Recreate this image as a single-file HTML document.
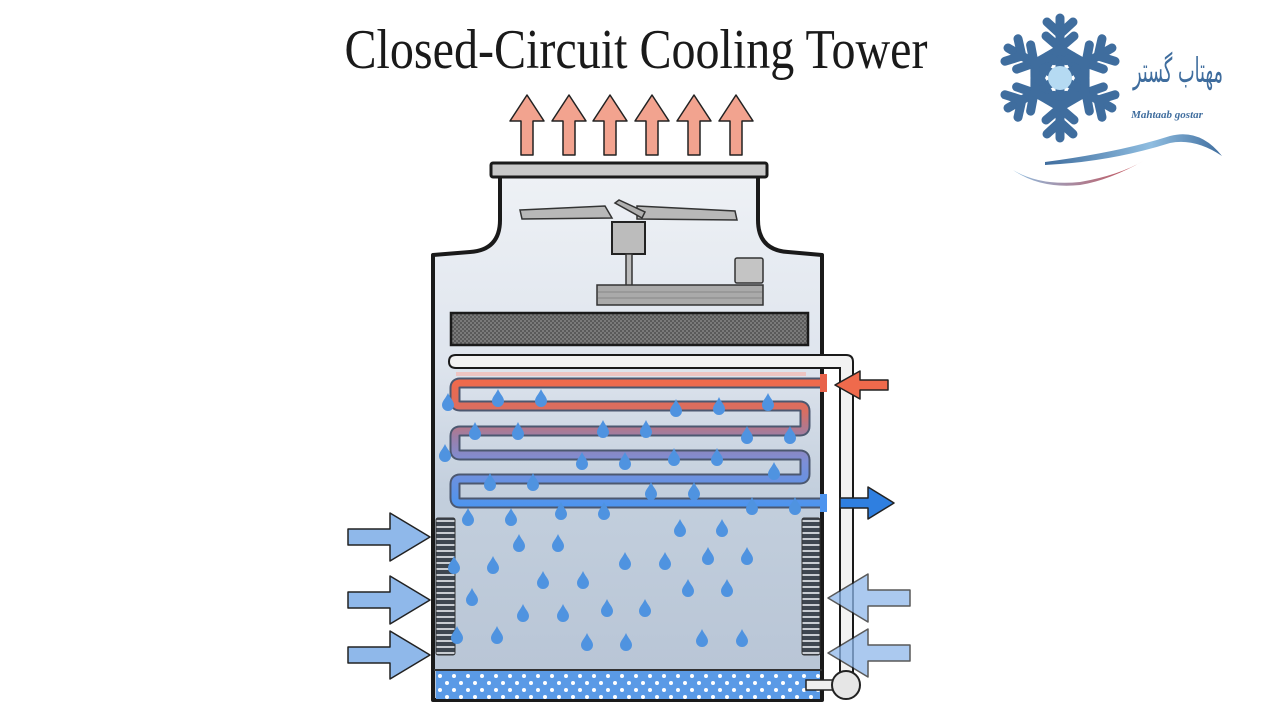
<!DOCTYPE html>
<html><head><meta charset="utf-8"><style>
html,body{margin:0;padding:0;background:#fff;width:1280px;height:720px;overflow:hidden}
</style></head><body>
<svg width="1280" height="720" viewBox="0 0 1280 720" xmlns="http://www.w3.org/2000/svg">
<defs>
<linearGradient id="bodyg" x1="0" y1="0" x2="0" y2="1">
<stop offset="0" stop-color="#eef1f5"/><stop offset="0.35" stop-color="#dfe5ee"/><stop offset="0.6" stop-color="#c3cfdd"/><stop offset="1" stop-color="#b7c4d5"/>
</linearGradient>
<linearGradient id="coilg" gradientUnits="userSpaceOnUse" x1="0" y1="380" x2="0" y2="506">
<stop offset="0" stop-color="#f0694a"/><stop offset="0.25" stop-color="#d86e62"/><stop offset="0.45" stop-color="#9c7ea6"/><stop offset="0.65" stop-color="#7d8fd8"/><stop offset="1" stop-color="#4d94ee"/>
</linearGradient>
<linearGradient id="swb" x1="0" y1="0" x2="1" y2="0">
<stop offset="0" stop-color="#3f6d9e"/><stop offset="0.6" stop-color="#8fbde0"/><stop offset="1" stop-color="#3f6d9e"/>
</linearGradient>
<linearGradient id="swr" x1="0" y1="0" x2="1" y2="0">
<stop offset="0" stop-color="#8fbde0"/><stop offset="1" stop-color="#c84a50"/>
</linearGradient>
<pattern id="hatch" width="4" height="4" patternUnits="userSpaceOnUse">
<rect width="4" height="4" fill="#5a5a5a"/><rect width="2" height="2" fill="#7a7a7a"/><rect x="2" y="2" width="2" height="2" fill="#7a7a7a"/>
</pattern>
<pattern id="dots" width="14" height="14" patternUnits="userSpaceOnUse" x="436" y="672">
<rect width="14" height="14" fill="#5a9ae6"/><circle cx="4" cy="4" r="2" fill="#fff"/><circle cx="11" cy="11" r="2" fill="#fff"/>
</pattern>
<pattern id="louv" width="20" height="6" patternUnits="userSpaceOnUse" y="518">
<rect width="20" height="6" fill="#3e4650"/><rect y="2" width="20" height="2" fill="#c8ccd2"/>
</pattern>
<path id="drop" d="M0,-9 C2,-4 6,-1 6,3 A6,6 0 0 1 -6,3 C-6,-1 -2,-4 0,-9Z" fill="#4f93e0"/>
<path id="uparr" d="M0,0 L17,26 L6,26 L6,60 L-6,60 L-6,26 L-17,26Z" fill="#f2a38f" stroke="#222" stroke-width="1.5" stroke-linejoin="round"/>
<path id="rarr" d="M0,-8 L42,-8 L42,-24 L82,0 L42,24 L42,8 L0,8Z" fill="#8fb8ea" stroke="#222" stroke-width="1.5" stroke-linejoin="round"/>
</defs>

<text x="636" y="68" font-family="'Liberation Serif',serif" font-size="56" fill="#1a1a1a" text-anchor="middle" textLength="583" lengthAdjust="spacingAndGlyphs">Closed-Circuit Cooling Tower</text>

<use href="#uparr" x="527" y="95"/><use href="#uparr" x="569" y="95"/><use href="#uparr" x="610" y="95"/>
<use href="#uparr" x="652" y="95"/><use href="#uparr" x="694" y="95"/><use href="#uparr" x="736" y="95"/>

<path d="M500,175 L500,220 Q500,250 470,252 L433,255 L433,700 L822,700 L822,255 L788,252 Q758,250 758,220 L758,175Z" fill="url(#bodyg)" stroke="#1a1a1a" stroke-width="4" stroke-linejoin="round"/>
<rect x="491" y="163" width="276" height="14" rx="2" fill="#c8c8c8" stroke="#1a1a1a" stroke-width="3"/>

<path d="M520,210 L605,206 L612,218 L522,219Z" fill="#b8b8b8" stroke="#333" stroke-width="1.5"/>
<path d="M637,206 L735,211 L737,220 L637,219Z" fill="#b8b8b8" stroke="#333" stroke-width="1.5"/>
<path d="M615,203 L619,200 L645,212 L642,218Z" fill="#b0b0b0" stroke="#333" stroke-width="1.5"/>
<rect x="612" y="222" width="33" height="32" fill="#bcbcbc" stroke="#222" stroke-width="2"/>
<rect x="626" y="254" width="6" height="32" fill="#bcbcbc" stroke="#333" stroke-width="1.5"/>
<rect x="735" y="258" width="28" height="25" rx="2" fill="#c4c4c4" stroke="#333" stroke-width="1.5"/>
<rect x="597" y="285" width="166" height="20" fill="#aaaaaa" stroke="#333" stroke-width="1.5"/>
<line x1="598" y1="292" x2="762" y2="292" stroke="#888" stroke-width="1"/>
<line x1="598" y1="298" x2="762" y2="298" stroke="#888" stroke-width="1"/>

<rect x="451" y="313" width="357" height="32" fill="url(#hatch)" stroke="#1a1a1a" stroke-width="2.5"/>

<path d="M456,355 L846,355 Q853,355 853,362 L853,680 L840,680 L840,368 L456,368 Q449,368 449,361.5 Q449,355 456,355Z" fill="#f2f2f2" stroke="#1a1a1a" stroke-width="2"/>
<rect x="456" y="372" width="350" height="4" fill="#f4b8b0" opacity="0.7"/>

<path d="M822,383 L460,383 Q455,383 455,388 L455,401 Q455,406 460,406 L800,406 Q805,406 805,411 L805,426 Q805,431 800,431 L460,431 Q455,431 455,436 L455,450 Q455,455 460,455 L800,455 Q805,455 805,460 L805,474 Q805,479 800,479 L460,479 Q455,479 455,484 L455,498 Q455,503 460,503 L822,503" fill="none" stroke="#4c5870" stroke-width="11" stroke-linejoin="round"/>
<path d="M822,383 L460,383 Q455,383 455,388 L455,401 Q455,406 460,406 L800,406 Q805,406 805,411 L805,426 Q805,431 800,431 L460,431 Q455,431 455,436 L455,450 Q455,455 460,455 L800,455 Q805,455 805,460 L805,474 Q805,479 800,479 L460,479 Q455,479 455,484 L455,498 Q455,503 460,503 L822,503" fill="none" stroke="url(#coilg)" stroke-width="7" stroke-linejoin="round"/>
<rect x="820" y="374" width="7" height="18" fill="#e8624a"/>
<rect x="820" y="494" width="7" height="18" fill="#4d94ee"/>

<path d="M835,385 L860,371 L860,380 L888,380 L888,390 L860,390 L860,399Z" fill="#ef6a4c" stroke="#222" stroke-width="1.5" stroke-linejoin="round"/>
<path d="M840,498 L868,498 L868,487 L894,503 L868,519 L868,508 L840,508Z" fill="#2f7fe0" stroke="#222" stroke-width="1.5" stroke-linejoin="round"/>

<rect x="436" y="518" width="19" height="137" rx="2" fill="url(#louv)" stroke="#333" stroke-width="1"/>
<rect x="802" y="518" width="18" height="137" rx="2" fill="url(#louv)" stroke="#333" stroke-width="1"/>

<rect x="436" y="671" width="384" height="28" fill="url(#dots)"/>
<line x1="434" y1="670" x2="822" y2="670" stroke="#333" stroke-width="2"/>

<rect x="806" y="680" width="30" height="10" fill="#eee" stroke="#222" stroke-width="1.5"/>
<circle cx="846" cy="685" r="14" fill="#e6e6e6" stroke="#222" stroke-width="2"/>

<g>
<use href="#drop" x="448" y="402"/><use href="#drop" x="498" y="398"/><use href="#drop" x="541" y="398"/><use href="#drop" x="676" y="408"/><use href="#drop" x="719" y="406"/><use href="#drop" x="768" y="402"/>
<use href="#drop" x="475" y="431"/><use href="#drop" x="518" y="431"/><use href="#drop" x="603" y="429"/><use href="#drop" x="646" y="429"/><use href="#drop" x="747" y="435"/><use href="#drop" x="790" y="435"/>
<use href="#drop" x="445" y="453"/><use href="#drop" x="582" y="461"/><use href="#drop" x="625" y="461"/><use href="#drop" x="674" y="457"/><use href="#drop" x="717" y="457"/><use href="#drop" x="774" y="471"/>
<use href="#drop" x="490" y="482"/><use href="#drop" x="533" y="482"/><use href="#drop" x="651" y="491"/><use href="#drop" x="694" y="491"/>
<use href="#drop" x="468" y="517"/><use href="#drop" x="511" y="517"/><use href="#drop" x="561" y="511"/><use href="#drop" x="604" y="511"/><use href="#drop" x="752" y="506"/><use href="#drop" x="795" y="506"/>
<use href="#drop" x="680" y="528"/><use href="#drop" x="722" y="528"/><use href="#drop" x="519" y="543"/><use href="#drop" x="558" y="543"/>
<use href="#drop" x="454" y="565"/><use href="#drop" x="493" y="565"/><use href="#drop" x="625" y="561"/><use href="#drop" x="665" y="561"/><use href="#drop" x="708" y="556"/><use href="#drop" x="747" y="556"/>
<use href="#drop" x="543" y="580"/><use href="#drop" x="583" y="580"/><use href="#drop" x="688" y="588"/><use href="#drop" x="727" y="588"/><use href="#drop" x="472" y="597"/>
<use href="#drop" x="523" y="613"/><use href="#drop" x="563" y="613"/><use href="#drop" x="607" y="608"/><use href="#drop" x="645" y="608"/>
<use href="#drop" x="457" y="635"/><use href="#drop" x="497" y="635"/><use href="#drop" x="587" y="642"/><use href="#drop" x="626" y="642"/><use href="#drop" x="702" y="638"/><use href="#drop" x="742" y="638"/>
</g>

<use href="#rarr" x="348" y="537"/><use href="#rarr" x="348" y="600"/><use href="#rarr" x="348" y="655"/>
<g opacity="0.75">
<use href="#rarr" transform="translate(910,598) scale(-1,1)"/>
<use href="#rarr" transform="translate(910,653) scale(-1,1)"/>
</g>

<!-- logo -->
<g transform="translate(1060,78)" stroke="#3f6d9e" stroke-width="9" stroke-linecap="round" stroke-linejoin="round" fill="none">
<g id="arm"><line x1="0" y1="-8" x2="0" y2="-60"/><polyline points="-13,-56 0,-44 13,-56"/><polyline points="-14,-42 0,-30 14,-42"/><polyline points="-12,-14 -12,-22 0,-29 12,-22 12,-14"/></g>
<use href="#arm" transform="rotate(60)"/><use href="#arm" transform="rotate(120)"/><use href="#arm" transform="rotate(180)"/><use href="#arm" transform="rotate(240)"/><use href="#arm" transform="rotate(300)"/>
<circle r="12" fill="#b5daf2" stroke="none"/>
</g>
<text x="1178" y="82" font-family="'DejaVu Sans','Liberation Serif',sans-serif" font-size="34" fill="#3f6d9e" text-anchor="middle" textLength="90" lengthAdjust="spacingAndGlyphs">مهتاب گستر</text>
<text x="1167" y="118" font-family="'Liberation Serif',serif" font-size="11" font-style="italic" font-weight="bold" fill="#3f6d9e" text-anchor="middle">Mahtaab gostar</text>
<path d="M1045,162 Q1120,152 1170,136 Q1200,128 1222,156 Q1195,138 1170,143 Q1110,162 1045,165Z" fill="url(#swb)"/>
<path d="M1013,170 Q1040,186 1080,182 Q1120,175 1145,160 Q1110,180 1080,185 Q1040,189 1013,170Z" fill="url(#swr)"/>
</svg>
</body></html>
